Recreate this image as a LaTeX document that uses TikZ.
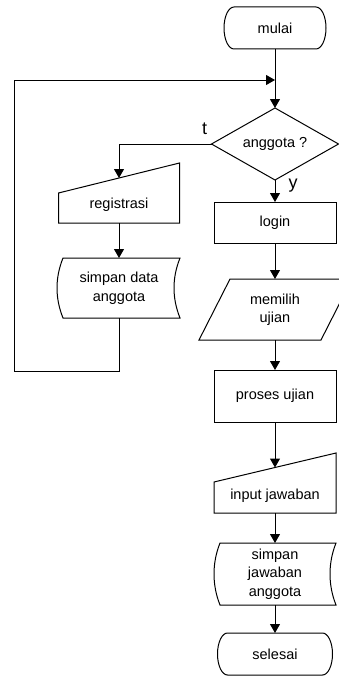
\documentclass[tikz,border=0pt]{standalone}
\usepackage{fontspec}
\setmainfont{Liberation Sans}
\usetikzlibrary{arrows.meta}
\begin{document}
\begin{tikzpicture}[x=1pt,y=-1pt,line width=1pt,
  box/.style={inner sep=0pt,outer sep=0pt,align=center,
    font=\fontsize{14.5}{18.5}\selectfont},
  arr/.style={-{Triangle[width=10pt,length=9pt]}},
  lbl/.style={inner sep=0pt,font=\fontsize{18}{20}\selectfont}]
\useasboundingbox[fill=white] (0,0) rectangle (339,677);

% text nodes (outlines drawn separately below)
\node[box,minimum width=102pt,minimum height=42pt] (start) at (275,28) {mulai};
\node[box,minimum width=127pt,minimum height=72pt] (dec) at (275,144) {anggota ?};
\node[box,minimum width=121pt,minimum height=36pt] (reg) at (119,205) {registrasi};
\node[box,minimum width=122pt,minimum height=60pt] (sdata) at (119,288) {simpan data\\anggota};
\node[box,minimum width=122pt,minimum height=41pt] (login) at (275,222.5) {login};
\node[box,minimum width=122pt,minimum height=61pt] (choose) at (275,309.5) {memilih\\ujian};
\node[box,minimum width=122pt,minimum height=52pt] (proc) at (275,396) {proses ujian};
\node[box,minimum width=122pt,minimum height=34pt] (inp) at (275,496) {input jawaban};
\node[box,minimum width=122pt,minimum height=62pt] (sjaw) at (275,574) {simpan\\jawaban\\anggota};
\node[box,minimum width=115pt,minimum height=42pt] (end) at (275,654) {selesai};

% terminator: mulai
\draw (234,7) -- (316,7) .. controls (321.5,7) and (326,16.4) .. (326,28)
  .. controls (326,39.6) and (321.5,49) .. (316,49) -- (234,49)
  .. controls (228.5,49) and (224,39.6) .. (224,28)
  .. controls (224,16.4) and (228.5,7) .. (234,7) -- cycle;
% decision
\draw (275,108) -- (338.5,144) -- (275,180) -- (211.5,144) -- cycle;
% manual input: registrasi
\draw (58.5,193) -- (179.5,163) -- (179.5,223) -- (58.5,223) -- cycle;
% stored data: simpan data anggota
\draw (63,258) -- (180,258) .. controls (172,278) and (172,298) .. (180,318)
  -- (63,318) .. controls (55,298) and (55,278) .. (63,258) -- cycle;
% process: login
\draw (214,202) rectangle (336,243);
% data: memilih ujian
\draw (230,279) -- (352,279) -- (321,340) -- (199,340) -- cycle;
% process: proses ujian
\draw (214,370) rectangle (336,422);
% manual input: input jawaban
\draw (214,482) -- (336,453) -- (336,513) -- (214,513) -- cycle;
% stored data: simpan jawaban anggota
\draw (220,543) -- (336,543) .. controls (328,563) and (328,585) .. (336,605)
  -- (220,605) .. controls (212,585) and (212,563) .. (220,543) -- cycle;
% terminator: selesai
\draw (227.5,633) -- (322.5,633) .. controls (328,633) and (332.5,642.4) .. (332.5,654)
  .. controls (332.5,665.6) and (328,675) .. (322.5,675) -- (227.5,675)
  .. controls (222,675) and (217.5,665.6) .. (217.5,654)
  .. controls (217.5,642.4) and (222,633) .. (227.5,633) -- cycle;

% branch labels
\node[lbl] (tlab) at (204.5,128.5) {t};
\node[lbl] (ylab) at (293,185.5) {y};

% connectors
\coordinate (join) at (275,80);
\coordinate (regin) at (119,178);
\coordinate (inpin) at (275,467.5);
\coordinate (loopa) at (14,371);
\draw (start.south) -- (join);
\draw[arr] (join) -- (dec.north);
\draw[arr] (dec.west) -| (regin);
\draw[arr] (dec.south) -- (login.north);
\draw[arr] (reg.south) -- (sdata.north);
\draw[arr] (sdata.south) |- (loopa) |- (join);
\draw[arr] (login.south) -- (choose.north);
\draw[arr] (choose.south) -- (proc.north);
\draw[arr] (proc.south) -- (inpin);
\draw[arr] (inp.south) -- (sjaw.north);
\draw[arr] (sjaw.south) -- (end.north);
\end{tikzpicture}
\end{document}
